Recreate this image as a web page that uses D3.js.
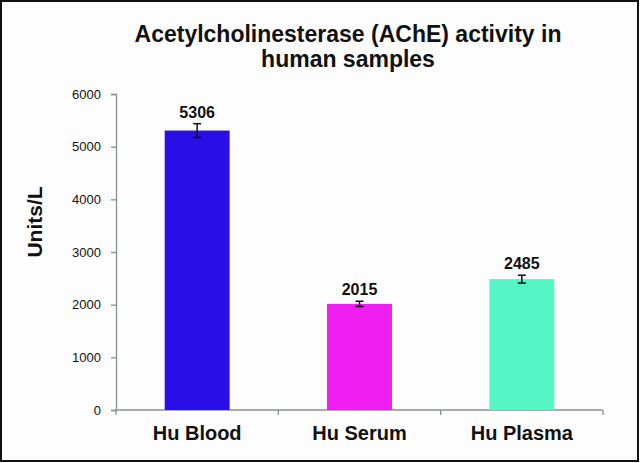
<!DOCTYPE html>
<html>
<head>
<meta charset="utf-8">
<script src="https://cdn.jsdelivr.net/npm/d3@7"></script>
<style>
  body { margin: 0; background: #fff; }
  svg { display: block; }
</style>
</head>
<body>
<svg id="chart"></svg>
<script>
// Chart data
const categories = ["Hu Blood", "Hu Serum", "Hu Plasma"];
const activity = [5306, 2015, 2485];
const errors = [130, 50, 75];
const barColors = ["#2a0ee6", "#ee1ff0", "#55f5c6"];
const yTicks = [0, 1000, 2000, 3000, 4000, 5000, 6000];
const titleLines = ["Acetylcholinesterase (AChE) activity in", "human samples"];

const W = 640, H = 463;
const margin = { top: 94, right: 37, bottom: 53, left: 116 };
const width = W - margin.left - margin.right;
const height = H - margin.top - margin.bottom;

const root = d3.select("#chart").attr("width", W).attr("height", H);

// background + frame
root.append("rect")
  .attr("x", 1).attr("y", 1)
  .attr("width", W - 3).attr("height", H - 3)
  .attr("fill", "#fdfdfd")
  .attr("stroke", "#111")
  .attr("stroke-width", 2);

// Title
root.append("text")
  .attr("x", 348).attr("y", 42)
  .attr("text-anchor", "middle")
  .style("font-family", "'Liberation Sans', Arial, sans-serif")
  .style("font-size", "23px")
  .style("font-weight", "bold")
  .attr("fill", "#111")
  .selectAll("tspan")
  .data(titleLines)
  .enter().append("tspan")
  .attr("x", 348)
  .attr("dy", (d, i) => i === 0 ? 0 : 25)
  .text(d => d);

const svg = root.append("g")
  .attr("transform", `translate(${margin.left}, ${margin.top})`);

const xScale = d3.scaleBand()
  .domain(categories)
  .range([0, width])
  .paddingInner(0.6)
  .paddingOuter(0.3);

const yScale = d3.scaleLinear()
  .domain([0, 6000])
  .range([height, 0]);

// Y axis
const yAxis = svg.append("g")
  .call(d3.axisLeft(yScale).tickValues(yTicks).tickFormat(d3.format("d")).tickSize(5).tickPadding(10));
yAxis.select(".domain").attr("stroke", "#8a9090").attr("stroke-width", 1.3);
yAxis.selectAll(".tick line").attr("stroke", "#8a9090").attr("stroke-width", 1.3);
yAxis.selectAll(".tick text")
  .style("font-family", "'Liberation Sans', Arial, sans-serif")
  .style("font-size", "13px")
  .attr("fill", "#111");

// X axis (ticks between categories)
const xAxisG = svg.append("g").attr("transform", `translate(0, ${height})`);
xAxisG.append("line")
  .attr("x1", 0).attr("x2", width)
  .attr("stroke", "#8a9090").attr("stroke-width", 1.3);
const edges = d3.range(categories.length + 1).map(i => i * width / categories.length);
xAxisG.selectAll(".xt").data(edges).enter().append("line")
  .attr("x1", d => d).attr("x2", d => d)
  .attr("y1", 0).attr("y2", 5)
  .attr("stroke", "#8a9090").attr("stroke-width", 1.3);
xAxisG.selectAll(".xl").data(categories).enter().append("text")
  .attr("x", d => xScale(d) + xScale.bandwidth() / 2)
  .attr("y", 30)
  .attr("text-anchor", "middle")
  .style("font-family", "'Liberation Sans', Arial, sans-serif")
  .style("font-size", "20px")
  .style("font-weight", "bold")
  .attr("fill", "#111")
  .text(d => d);

// Y axis title
root.append("text")
  .attr("transform", "translate(42, 222) rotate(-90)")
  .attr("text-anchor", "middle")
  .style("font-family", "'Liberation Sans', Arial, sans-serif")
  .style("font-size", "21px")
  .style("font-weight", "bold")
  .attr("fill", "#111")
  .text("Units/L");

// Bars
svg.selectAll(".bar").data(activity).enter().append("rect")
  .attr("class", "bar")
  .attr("x", (d, i) => xScale(categories[i]))
  .attr("y", d => yScale(d))
  .attr("width", xScale.bandwidth())
  .attr("height", d => height - yScale(d))
  .attr("fill", (d, i) => barColors[i]);

// Error bars
const eb = svg.selectAll(".err").data(activity).enter().append("g")
  .attr("transform", (d, i) => `translate(${xScale(categories[i]) + xScale.bandwidth() / 2}, 0)`);
eb.append("line")
  .attr("y1", (d, i) => yScale(d + errors[i]))
  .attr("y2", (d, i) => yScale(d - errors[i]))
  .attr("stroke", "#111").attr("stroke-width", 1.5);
eb.append("line")
  .attr("x1", -4).attr("x2", 4)
  .attr("y1", (d, i) => yScale(d + errors[i]))
  .attr("y2", (d, i) => yScale(d + errors[i]))
  .attr("stroke", "#111").attr("stroke-width", 1.5);
eb.append("line")
  .attr("x1", -4).attr("x2", 4)
  .attr("y1", (d, i) => yScale(d - errors[i]))
  .attr("y2", (d, i) => yScale(d - errors[i]))
  .attr("stroke", "#111").attr("stroke-width", 1.5);

// Value labels
svg.selectAll(".val").data(activity).enter().append("text")
  .attr("x", (d, i) => xScale(categories[i]) + xScale.bandwidth() / 2)
  .attr("y", (d, i) => yScale(d + errors[i]) - 6)
  .attr("text-anchor", "middle")
  .style("font-family", "'Liberation Sans Narrow', 'Arial Narrow', sans-serif")
  .style("font-size", "16px")
  .style("font-weight", "bold")
  .attr("fill", "#111")
  .text(d => d);
</script>
</body>
</html>
